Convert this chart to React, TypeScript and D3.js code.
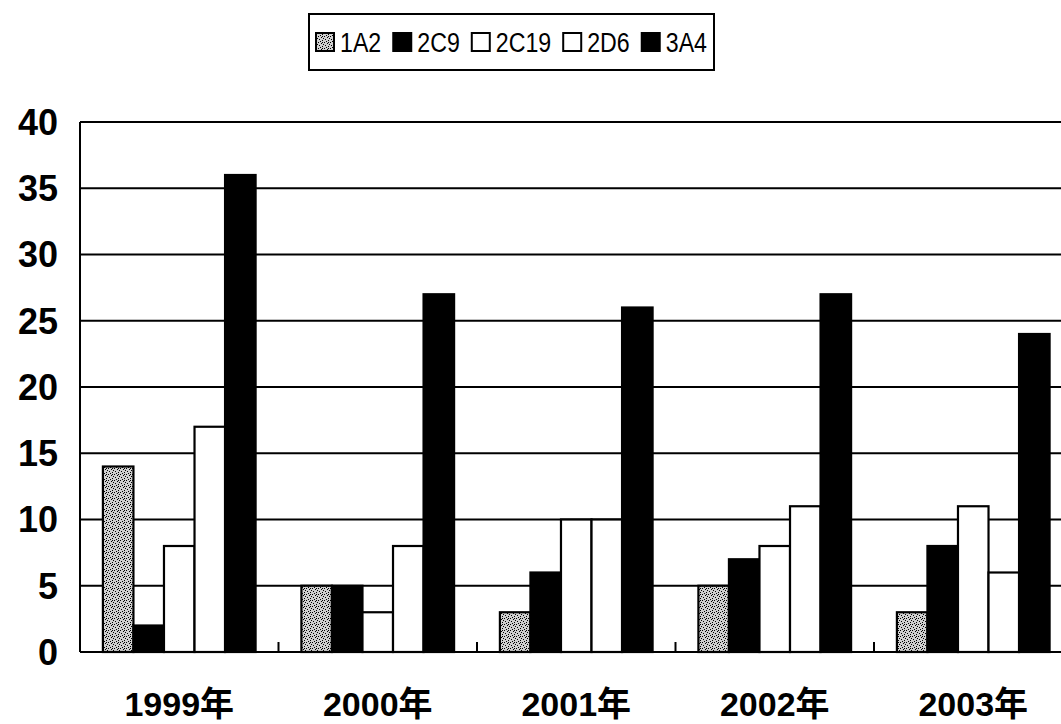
import React, { useEffect, useRef } from "react";
import * as d3 from "d3";

const categories = ["1999年", "2000年", "2001年", "2002年", "2003年"];
const seriesNames = ["1A2", "2C9", "2C19", "2D6", "3A4"];
const s1A2 = [14, 5, 3, 5, 3];
const s2C9 = [2, 5, 6, 7, 8];
const s2C19 = [8, 3, 10, 8, 11];
const s2D6 = [17, 8, 10, 11, 6];
const s3A4 = [36, 27, 26, 27, 24];
const yTicks = [0, 5, 10, 15, 20, 25, 30, 35, 40];

const seriesValues = [s1A2, s2C9, s2C19, s2D6, s3A4];
const fills = ["url(#stipple)", "#000", "#fff", "#fff", "#000"];

const W = 1061;
const H = 724;
const FONT = "'Liberation Sans', 'Noto Sans CJK JP', Arial, sans-serif";

export default function App() {
  const ref = useRef<SVGSVGElement>(null);

  useEffect(() => {
    const svg = d3.select(ref.current);
    svg.selectAll("*").remove();

    const defs = svg.append("defs");
    const pat = defs
      .append("pattern")
      .attr("id", "stipple")
      .attr("patternUnits", "userSpaceOnUse")
      .attr("width", 6)
      .attr("height", 6);
    pat.append("rect").attr("width", 6).attr("height", 6).attr("fill", "#cfcfcf");
    const dots = [
      [0, 0], [3, 1], [1, 3], [4, 4], [5, 2], [2, 5], [4, 0],
    ];
    dots.forEach(([dx, dy]) =>
      pat.append("rect").attr("x", dx).attr("y", dy).attr("width", 1).attr("height", 1).attr("fill", "#000")
    );

    const left = 80;
    const step = 198.5;
    const top = 122;
    const bottom = 652;

    const x = d3
      .scaleBand<string>()
      .domain(categories)
      .range([left, left + step * categories.length])
      .paddingInner(0)
      .paddingOuter(0);
    const xi = d3
      .scaleBand<string>()
      .domain(seriesNames)
      .range([0, x.bandwidth()])
      .paddingInner(0)
      .paddingOuter(0.75);
    const y = d3.scaleLinear().domain([0, 40]).range([bottom, top]);

    const g = svg.append("g");

    g.selectAll("line.grid")
      .data(yTicks.filter((t) => t > 0))
      .enter()
      .append("line")
      .attr("x1", left)
      .attr("x2", left + step * categories.length)
      .attr("y1", (d) => y(d))
      .attr("y2", (d) => y(d))
      .attr("stroke", "#000")
      .attr("stroke-width", 2);

    seriesNames.forEach((s, si) => {
      g.selectAll(`rect.bar${si}`)
        .data(seriesValues[si])
        .enter()
        .append("rect")
        .attr("x", (_d, i) => (x(categories[i]) as number) + (xi(s) as number))
        .attr("y", (d) => y(d))
        .attr("width", xi.bandwidth())
        .attr("height", (d) => y(0) - y(d))
        .attr("fill", fills[si])
        .attr("stroke", "#000")
        .attr("stroke-width", 2.2);
    });

    g.append("line")
      .attr("x1", left).attr("x2", left)
      .attr("y1", top).attr("y2", bottom)
      .attr("stroke", "#000").attr("stroke-width", 2);
    g.append("line")
      .attr("x1", left).attr("x2", left + step * categories.length)
      .attr("y1", bottom).attr("y2", bottom)
      .attr("stroke", "#000").attr("stroke-width", 2);

    g.selectAll("line.xtick")
      .data(categories.slice(1))
      .enter()
      .append("line")
      .attr("x1", (d) => x(d) as number)
      .attr("x2", (d) => x(d) as number)
      .attr("y1", bottom)
      .attr("y2", bottom - 10)
      .attr("stroke", "#000")
      .attr("stroke-width", 2);

    g.selectAll("text.ylab")
      .data(yTicks)
      .enter()
      .append("text")
      .attr("x", 58)
      .attr("y", (d) => y(d))
      .attr("dy", "0.36em")
      .attr("text-anchor", "end")
      .attr("font-family", FONT)
      .attr("font-weight", "bold")
      .attr("font-size", 36)
      .text((d) => String(d));

    g.selectAll("text.xlab")
      .data(categories)
      .enter()
      .append("text")
      .attr("x", (d) => (x(d) as number) + x.bandwidth() / 2)
      .attr("y", 716)
      .attr("text-anchor", "middle")
      .attr("font-family", FONT)
      .attr("font-weight", "bold")
      .attr("font-size", 34)
      .text((d) => d);

    // legend
    const boxLeft = 309;
    const boxW = 405;
    const iconW = 18;
    const gapIT = 6;
    const gapItem = 12;
    const lg = svg.append("g");
    lg.append("rect")
      .attr("x", boxLeft)
      .attr("y", 14)
      .attr("width", boxW)
      .attr("height", 56)
      .attr("fill", "#fff")
      .attr("stroke", "#000")
      .attr("stroke-width", 2);
    const texts = seriesNames.map((s) =>
      lg
        .append("text")
        .attr("y", 52)
        .attr("font-family", FONT)
        .attr("font-size", 27)
        .text(s)
    );
    const widths = texts.map((t) => (t.node() as SVGTextElement).getComputedTextLength());
    const fixed = seriesNames.length * (iconW + gapIT) + (seriesNames.length - 1) * gapItem;
    const avail = boxW - 14 - fixed;
    const sumW = d3.sum(widths);
    const k = Math.min(1, avail / sumW);
    const total = fixed + sumW * k;
    let cx = boxLeft + (boxW - total) / 2;
    seriesNames.forEach((s, si) => {
      lg.append("rect")
        .attr("x", cx)
        .attr("y", 33)
        .attr("width", iconW)
        .attr("height", iconW)
        .attr("fill", fills[si])
        .attr("stroke", "#000")
        .attr("stroke-width", 2);
      const tw = widths[si] * k;
      texts[si]
        .attr("x", cx + iconW + gapIT)
        .attr("textLength", tw)
        .attr("lengthAdjust", "spacingAndGlyphs");
      cx += iconW + gapIT + tw + gapItem;
    });
  }, []);

  return (
    <svg
      ref={ref}
      width={W}
      height={H}
      style={{ position: "absolute", left: 0, top: 0, background: "#fff" }}
    />
  );
}
